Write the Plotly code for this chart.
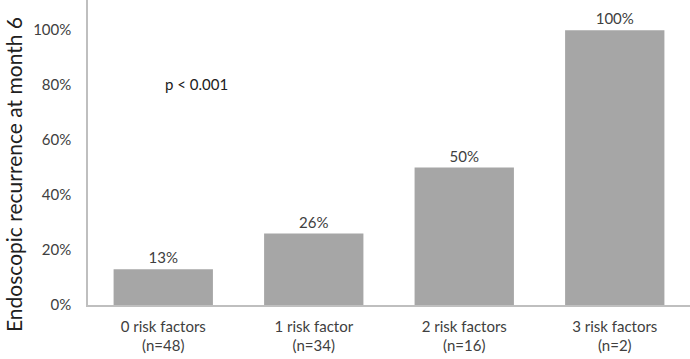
import plotly.graph_objects as go

categories = ["0 risk factors<br>(n=48)", "1 risk factor<br>(n=34)", "2 risk factors<br>(n=16)", "3 risk factors<br>(n=2)"]
values = [0.13, 0.26, 0.50, 1.00]
labels = ["13%", "26%", "50%", "100%"]
tick_vals = [0, 0.2, 0.4, 0.6, 0.8, 1.0]
tick_text = ["0%", "20%", "40%", "60%", "80%", "100%"]

FONT = "Lato, 'Open Sans', sans-serif"
TXT = "#404040"

W, H = 690, 359
L, B = 88, 54
plot_w = W - L
plot_h = H - B

fig = go.Figure()
fig.add_trace(go.Bar(
    x=categories, y=values, text=labels, textposition="outside",
    textfont=dict(size=15, color=TXT, family=FONT),
    marker=dict(color="#A6A6A6", line=dict(width=0)),
    cliponaxis=False,
))
fig.add_annotation(x=0.22, y=0.805, xref="x", yref="y", text="p < 0.001",
                   showarrow=False, font=dict(size=15, color="#202020", family=FONT))
fig.add_annotation(x=(13 - L) / plot_w, y=(plot_h - 175) / plot_h,
                   xref="paper", yref="paper", xanchor="center", yanchor="middle",
                   text="Endoscopic recurrence at month 6",
                   showarrow=False, textangle=-90,
                   font=dict(size=21, color="#202020", family=FONT))
fig.update_layout(
    width=W, height=H,
    margin=dict(l=L, r=0, t=0, b=B),
    paper_bgcolor="white", plot_bgcolor="white",
    bargap=0.34, showlegend=False,
    font=dict(family=FONT, color=TXT),
)
fig.update_xaxes(showline=True, linecolor="#BFBFBF", linewidth=1.5, ticks="",
                 automargin=False, ticklabelstandoff=7,
                 tickfont=dict(size=15, color=TXT, family=FONT), showgrid=False)
fig.update_yaxes(range=[0, 1.11], tickvals=tick_vals, ticktext=tick_text,
                 showline=True, linecolor="#BFBFBF", linewidth=1.5, ticks="",
                 showgrid=False, zeroline=False, automargin=False,
                 ticklabelstandoff=12,
                 tickfont=dict(size=15, color=TXT, family=FONT))
fig.write_html("out.html", config={"displayModeBar": False},
               post_script="document.body.style.margin='0';")
